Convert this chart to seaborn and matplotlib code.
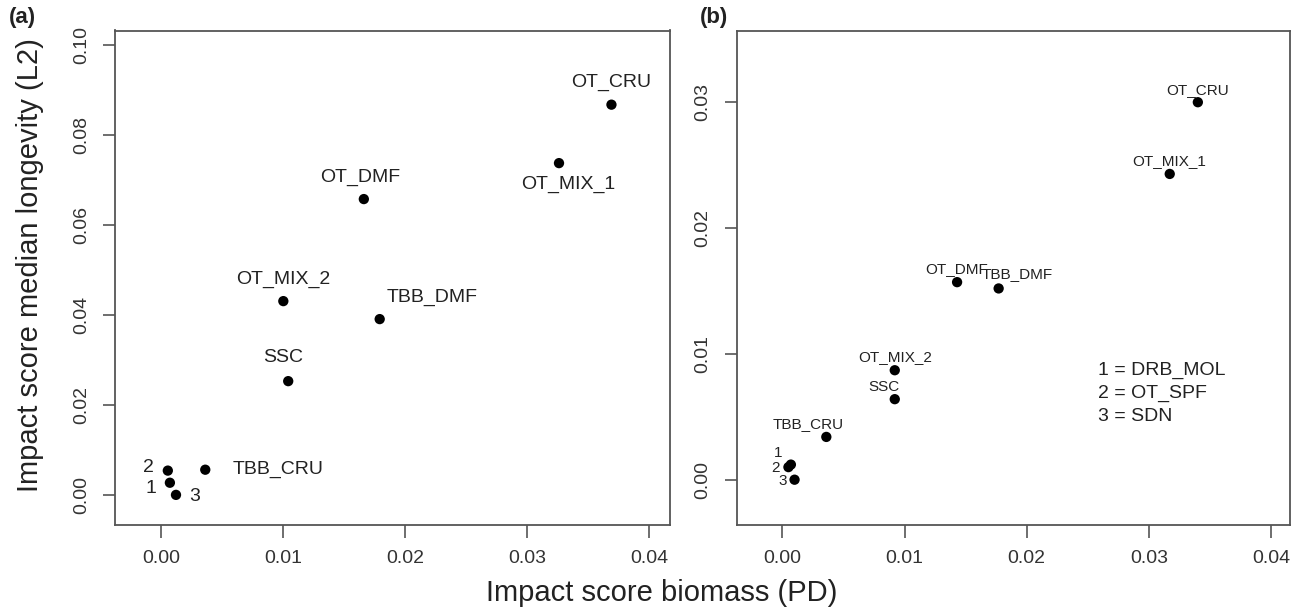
import numpy as np
import pandas as pd
import matplotlib
matplotlib.use("Agg")
import matplotlib.pyplot as plt
import seaborn as sns

# panel (a): biomass vs median longevity
labels_a = ["OT_CRU", "OT_MIX_1", "OT_DMF", "OT_MIX_2", "TBB_DMF", "SSC",
            "TBB_CRU", "2", "1", "3"]
x_a = [0.0369, 0.0326, 0.0166, 0.0100, 0.0179, 0.0104, 0.0036, 0.00053, 0.0007, 0.0012]
y_a = [0.0868, 0.0738, 0.0658, 0.0431, 0.0391, 0.0253, 0.0056, 0.0054, 0.0027, 0.0]

# panel (b)
labels_b = ["OT_CRU", "OT_MIX_1", "OT_DMF", "TBB_DMF", "OT_MIX_2", "SSC",
            "TBB_CRU", "1", "2", "3"]
x_b = [0.0340, 0.0317, 0.0143, 0.0177, 0.0092, 0.0092, 0.0036, 0.0007, 0.0005, 0.0010]
y_b = [0.0300, 0.0243, 0.0157, 0.0152, 0.0087, 0.0064, 0.0034, 0.0012, 0.0010, 0.0]

key_lines = ["1 = DRB_MOL", "2 = OT_SPF", "3 = SDN"]

x_ticks = [0.00, 0.01, 0.02, 0.03, 0.04]
y_ticks_a = [0.00, 0.02, 0.04, 0.06, 0.08, 0.10]
y_ticks_b = [0.00, 0.01, 0.02, 0.03]

# label offsets in pixels (dx, dy) from each point
off_a = [(0, 22), (9, -21), (-4, 22), (0, 22), (52, 22), (-5, 24),
         (73, 0), (-19, 3), (-19, -6), (19, -2)]
off_b = [(0, 12), (-1, 13), (0, 13), (19, 14), (0, 13), (-11, 12),
         (-18, 13), (-13, 12), (-13, -1), (-12, -1)]

sns.set_style("white")
plt.rcParams['font.family'] = ['Liberation Sans', 'DejaVu Sans']

fig = plt.figure(figsize=(12.92, 6.11), dpi=100)
ax1 = fig.add_axes([115 / 1292, 1 - 525 / 611, 555 / 1292, 494.5 / 611])
ax2 = fig.add_axes([736.5 / 1292, 1 - 525 / 611, 553 / 1292, 494.5 / 611])

df_a = pd.DataFrame({"x": x_a, "y": y_a, "lab": labels_a})
df_b = pd.DataFrame({"x": x_b, "y": y_b, "lab": labels_b})

edge = "#555555"
txt = "#222222"


def draw(ax, df, offs, fsize, yticks, xlim, ylim):
    sns.scatterplot(data=df, x="x", y="y", ax=ax, color="black", s=55,
                    edgecolor="none", legend=False, zorder=3)
    for (_, r), (dx, dy) in zip(df.iterrows(), offs):
        ax.annotate(r["lab"], (r["x"], r["y"]), xytext=(dx, dy),
                    textcoords="offset pixels", ha="center", va="center",
                    fontsize=fsize, color=txt)
    ax.set_xlim(*xlim)
    ax.set_ylim(*ylim)
    ax.set_xticks(x_ticks)
    ax.set_xticklabels(["%.2f" % v for v in x_ticks])
    ax.set_yticks(yticks)
    ax.set_yticklabels(["%.2f" % v for v in yticks], rotation=90, va="center")
    ax.tick_params(axis="both", direction="out", length=9, width=1.2,
                   color=edge, labelsize=14, labelcolor="#333333", pad=9,
                   bottom=True, left=True)
    for sp in ax.spines.values():
        sp.set_visible(True)
        sp.set_color(edge)
        sp.set_linewidth(1.3)
    ax.set_xlabel("")
    ax.set_ylabel("")


draw(ax1, df_a, off_a, 14, y_ticks_a, (-0.0038, 0.0417), (-0.0067, 0.1033))
draw(ax2, df_b, off_b, 11, y_ticks_b, (-0.00375, 0.0415), (-0.0036, 0.0357))

for i, line in enumerate(key_lines):
    ax2.text(1097.7 / 1292, 1 - (370 + 23.3 * i) / 611, line,
             transform=fig.transFigure, ha="left", va="center",
             fontsize=14, color=txt)

fig.text(22 / 1292, 1 - 18 / 611, "(a)", fontsize=16, fontweight="bold",
         ha="center", va="center", color=txt)
fig.text(714 / 1292, 1 - 18 / 611, "(b)", fontsize=16, fontweight="bold",
         ha="center", va="center", color=txt)
fig.text(662 / 1292, 1 - 593 / 611, "Impact score biomass (PD)", fontsize=21,
         ha="center", va="center", color=txt)
fig.text(30 / 1292, 1 - 265 / 611, "Impact score median longevity (L2)",
         fontsize=21, rotation=90, ha="center", va="center", color=txt)

fig.savefig("out.png", dpi=100)
